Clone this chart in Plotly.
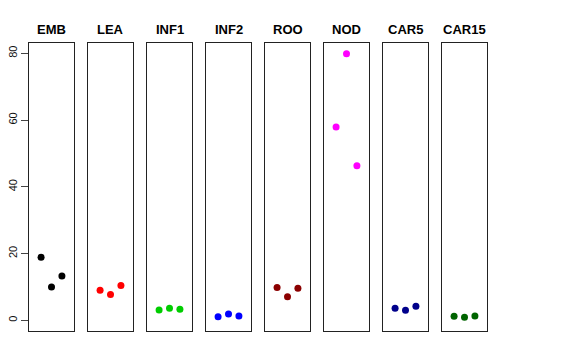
import plotly.graph_objects as go

tissues = ["EMB", "LEA", "INF1", "INF2", "ROO", "NOD", "CAR5", "CAR15"]
colors = ["#000000", "#FF0000", "#00CD00", "#0000FF", "#8B0000", "#FF00FF", "#00008B", "#006400"]
rep_x = [1, 2, 3]
values = {
    "EMB":   [18.9, 10.0, 13.3],
    "LEA":   [9.0, 7.7, 10.4],
    "INF1":  [3.1, 3.6, 3.3],
    "INF2":  [1.1, 1.9, 1.3],
    "ROO":   [9.8, 7.1, 9.6],
    "NOD":   [57.9, 79.9, 46.3],
    "CAR5":  [3.6, 3.0, 4.2],
    "CAR15": [1.2, 0.9, 1.3],
}
y_ticks = [0, 20, 40, 60, 80]

W, H = 576, 360
OFF = 8  # page body margin in the browser
left0, pw, step = 29 - OFF, 45, 59
top_px, bot_px = 43 - OFF, 331 - OFF
title_px = 29 - OFF

fig = go.Figure()
for i, t in enumerate(tissues):
    xa = "x" if i == 0 else f"x{i+1}"
    ya = "y" if i == 0 else f"y{i+1}"
    fig.add_trace(go.Scatter(
        x=rep_x, y=values[t], mode="markers",
        marker=dict(color=colors[i], size=7),
        xaxis=xa, yaxis=ya, showlegend=False, hoverinfo="skip"))
    x0 = (left0 + i * step) / W
    x1 = (left0 + i * step + pw) / W
    key = "" if i == 0 else str(i + 1)
    fig.layout["xaxis" + key] = dict(
        domain=[x0, x1], range=[-0.16, 4.16], showticklabels=False,
        ticks="", showgrid=False, zeroline=False, showline=True,
        mirror=True, linecolor="#222222", linewidth=1, anchor=ya,
        automargin=False)
    ydict = dict(
        domain=[1 - bot_px / H, 1 - top_px / H], range=[-3.2, 83.1],
        showgrid=False, zeroline=False, showline=True, mirror=True,
        linecolor="#222222", linewidth=1, anchor=xa, automargin=False)
    if i == 0:
        ydict.update(tickvals=y_ticks, ticks="outside", ticklen=7,
                     tickcolor="#444444", tickangle=-90,
                     tickfont=dict(size=11, color="#111111",
                                   family="Liberation Sans, Arial, sans-serif"))
    else:
        ydict.update(showticklabels=False, ticks="")
    fig.layout["yaxis" + key] = ydict
    fig.add_annotation(
        text=f"<b>{t}</b>", x=(x0 + x1) / 2, y=1 - title_px / H,
        xref="paper", yref="paper", showarrow=False,
        font=dict(size=13, color="#000000",
                  family="Liberation Sans, Arial, sans-serif"),
        xanchor="center", yanchor="middle")

fig.update_layout(
    width=W, height=H, margin=dict(l=0, r=0, t=0, b=0),
    paper_bgcolor="white", plot_bgcolor="white")

fig.write_html("out.html")
